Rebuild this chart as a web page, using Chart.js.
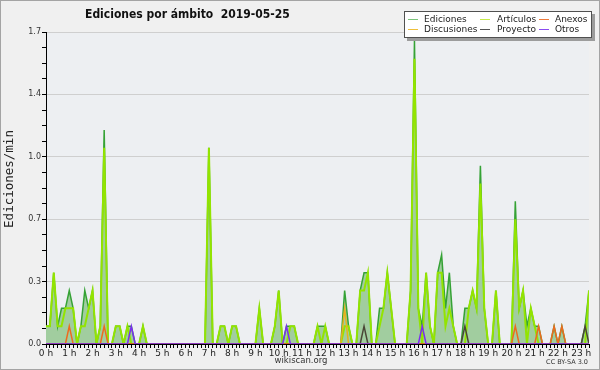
<!DOCTYPE html>
<html>
<head>
<meta charset="utf-8">
<script src="https://cdn.jsdelivr.net/npm/chart.js@4.4.0/dist/chart.umd.min.js"></script>
<style>
html, body { margin: 0; padding: 0; background: #f0f0f0; }
canvas { display: block; }
</style>
</head>
<body>
<canvas id="chart" width="600" height="370"></canvas>
<script>
// Ediciones por ámbito, 10-minute bins (0:00 .. 23:20)

const chartTitle = 'Ediciones por ámbito  2019-05-25';
const yTitle = 'Ediciones/min';
const hourLabels = ['0 h', '1 h', '2 h', '3 h', '4 h', '5 h', '6 h', '7 h', '8 h', '9 h', '10 h', '11 h',
    '12 h', '13 h', '14 h', '15 h', '16 h', '17 h', '18 h', '19 h', '20 h', '21 h', '22 h', '23 h'];
const yTickLabels = ['0.0', '0.3', '0.7', '1.0', '1.4', '1.7'];

// one value per 10 minutes, two hours per line
const ediciones = [
    0.1, 0.1, 0.4, 0.1, 0.2, 0.2, 0.3, 0.2, 0, 0.1, 0.3, 0.2,
    0.3, 0, 0.1, 1.2, 0, 0, 0.1, 0.1, 0, 0.1, 0.1, 0,
    0, 0.1, 0, 0, 0, 0, 0, 0, 0, 0, 0, 0,
    0, 0, 0, 0, 0, 0, 1.1, 0, 0, 0.1, 0.1, 0,
    0.1, 0.1, 0, 0, 0, 0, 0, 0.2, 0, 0, 0, 0.1,
    0.3, 0, 0.1, 0.1, 0.1, 0, 0, 0, 0, 0, 0.1, 0.1,
    0.1, 0, 0, 0, 0, 0.3, 0.1, 0, 0, 0.3, 0.4, 0.4,
    0, 0, 0.2, 0.2, 0.4, 0.2, 0, 0, 0, 0, 0.3, 1.7,
    0.2, 0.1, 0.4, 0.1, 0, 0.4, 0.5, 0.2, 0.4, 0.1, 0, 0,
    0.2, 0.2, 0.3, 0.2, 1.0, 0.2, 0, 0, 0.3, 0, 0, 0,
    0, 0.8, 0.2, 0.3, 0.1, 0.2, 0.1, 0.1, 0, 0, 0, 0.1,
    0, 0.1, 0, 0, 0, 0, 0, 0.1, 0.3
];
const articulos = [
    0.1, 0.1, 0.4, 0.1, 0.1, 0.2, 0.2, 0.2, 0, 0.1, 0.1, 0.2,
    0.3, 0, 0.1, 1.1, 0, 0, 0.1, 0.1, 0, 0.1, 0, 0,
    0, 0.1, 0, 0, 0, 0, 0, 0, 0, 0, 0, 0,
    0, 0, 0, 0, 0, 0, 1.1, 0, 0, 0.1, 0.1, 0,
    0.1, 0.1, 0, 0, 0, 0, 0, 0.2, 0, 0, 0, 0.1,
    0.3, 0, 0, 0.1, 0.1, 0, 0, 0, 0, 0, 0.1, 0,
    0.1, 0, 0, 0, 0, 0.1, 0.1, 0, 0, 0.3, 0.3, 0.4,
    0, 0, 0.1, 0.2, 0.4, 0.2, 0, 0, 0, 0, 0.3, 1.6,
    0.2, 0, 0.4, 0.1, 0, 0.4, 0.4, 0.1, 0.2, 0.1, 0, 0,
    0, 0.2, 0.3, 0.2, 0.9, 0.2, 0, 0, 0.3, 0, 0, 0,
    0, 0.7, 0.2, 0.3, 0, 0.2, 0.1, 0, 0, 0, 0, 0,
    0, 0, 0, 0, 0, 0, 0, 0, 0.3
];
const discusiones = [
    0, 0, 0, 0, 0, 0, 0, 0, 0, 0, 0, 0,
    0, 0, 0, 0, 0, 0, 0, 0, 0, 0, 0, 0,
    0, 0, 0, 0, 0, 0, 0, 0, 0, 0, 0, 0,
    0, 0, 0, 0, 0, 0, 0, 0, 0, 0, 0, 0,
    0, 0, 0, 0, 0, 0, 0, 0, 0, 0, 0, 0,
    0, 0, 0, 0, 0, 0, 0, 0, 0, 0, 0, 0,
    0, 0, 0, 0, 0, 0.2, 0, 0, 0, 0, 0, 0,
    0, 0, 0, 0, 0, 0, 0, 0, 0, 0, 0, 0,
    0, 0, 0, 0, 0, 0, 0, 0, 0, 0, 0, 0,
    0, 0, 0, 0, 0, 0, 0, 0, 0, 0, 0, 0,
    0, 0, 0, 0, 0, 0, 0, 0, 0, 0, 0, 0,
    0, 0, 0, 0, 0, 0, 0, 0, 0
];
const anexos = [
    0, 0, 0, 0, 0, 0, 0.1, 0, 0, 0, 0, 0,
    0, 0, 0, 0.1, 0, 0, 0, 0, 0, 0, 0, 0,
    0, 0, 0, 0, 0, 0, 0, 0, 0, 0, 0, 0,
    0, 0, 0, 0, 0, 0, 0, 0, 0, 0, 0, 0,
    0, 0, 0, 0, 0, 0, 0, 0, 0, 0, 0, 0,
    0, 0, 0, 0, 0, 0, 0, 0, 0, 0, 0, 0,
    0, 0, 0, 0, 0, 0, 0, 0, 0, 0, 0, 0,
    0, 0, 0, 0, 0, 0, 0, 0, 0, 0, 0, 0,
    0, 0, 0, 0, 0, 0, 0, 0, 0, 0, 0, 0,
    0, 0, 0, 0, 0, 0, 0, 0, 0, 0, 0, 0,
    0, 0.1, 0, 0, 0, 0, 0, 0.1, 0, 0, 0, 0.1,
    0, 0.1, 0, 0, 0, 0, 0, 0, 0
];
const proyecto = [
    0, 0, 0, 0, 0, 0, 0, 0, 0, 0, 0, 0,
    0, 0, 0, 0, 0, 0, 0, 0, 0, 0, 0, 0,
    0, 0, 0, 0, 0, 0, 0, 0, 0, 0, 0, 0,
    0, 0, 0, 0, 0, 0, 0, 0, 0, 0, 0, 0,
    0, 0, 0, 0, 0, 0, 0, 0, 0, 0, 0, 0,
    0, 0, 0, 0, 0, 0, 0, 0, 0, 0, 0, 0,
    0, 0, 0, 0, 0, 0, 0, 0, 0, 0, 0.1, 0,
    0, 0, 0, 0, 0, 0, 0, 0, 0, 0, 0, 0,
    0, 0, 0, 0, 0, 0, 0, 0, 0, 0, 0, 0,
    0.1, 0, 0, 0, 0, 0, 0, 0, 0, 0, 0, 0,
    0, 0, 0, 0, 0, 0, 0, 0, 0, 0, 0, 0,
    0, 0, 0, 0, 0, 0, 0, 0.1, 0
];
const otros = [
    0, 0, 0, 0, 0, 0, 0, 0, 0, 0, 0, 0,
    0, 0, 0, 0, 0, 0, 0, 0, 0, 0, 0.1, 0,
    0, 0, 0, 0, 0, 0, 0, 0, 0, 0, 0, 0,
    0, 0, 0, 0, 0, 0, 0, 0, 0, 0, 0, 0,
    0, 0, 0, 0, 0, 0, 0, 0, 0, 0, 0, 0,
    0, 0, 0.1, 0, 0, 0, 0, 0, 0, 0, 0, 0,
    0, 0, 0, 0, 0, 0, 0, 0, 0, 0, 0, 0,
    0, 0, 0, 0, 0, 0, 0, 0, 0, 0, 0, 0,
    0, 0.1, 0, 0, 0, 0, 0, 0, 0, 0, 0, 0,
    0, 0, 0, 0, 0, 0, 0, 0, 0, 0, 0, 0,
    0, 0, 0, 0, 0, 0, 0, 0, 0, 0, 0, 0,
    0, 0, 0, 0, 0, 0, 0, 0, 0
];

const lastBin = ediciones.length - 1;
const yMax = 1.75;
const yStep = 0.0875; // minor tick, 4 per labelled step

// legend: [label, colour], in drawing order (row by row)
const legendItems = [
    ['Ediciones', '#7cc47a'], ['Artículos', '#c6ea4a'], ['Anexos', '#ee7a3c'],
    ['Discusiones', '#eebf3a'], ['Proyecto', '#555555'], ['Otros', '#8a4cf0']
];

function toPoints(arr) {
    return arr.map((v, i) => ({ x: i, y: v }));
}

const frame = {
    id: 'frame',
    beforeDraw(chart) {
        const { ctx, chartArea: a } = chart;
        ctx.save();
        ctx.fillStyle = '#f0f0f0';
        ctx.fillRect(0, 0, chart.width, chart.height);
        ctx.strokeStyle = '#a4a4a4';
        ctx.lineWidth = 1;
        ctx.strokeRect(0.5, 0.5, chart.width - 1, chart.height - 1);
        ctx.fillStyle = '#edeff2';
        ctx.fillRect(a.left, a.top, a.right - a.left, a.bottom - a.top);
        ctx.restore();
    },
    afterDraw(chart) {
        const ctx = chart.ctx;
        ctx.save();
        // title
        ctx.fillStyle = '#111';
        ctx.font = 'bold 12px "DejaVu Sans Condensed", "DejaVu Sans"';
        ctx.textBaseline = 'middle';
        ctx.textAlign = 'left';
        ctx.fillText(chartTitle, 85, 15);

        // y axis title
        ctx.save();
        ctx.translate(10, 179);
        ctx.rotate(-Math.PI / 2);
        ctx.textAlign = 'center';
        ctx.font = '12.5px "DejaVu Sans Mono"';
        ctx.fillStyle = '#222';
        ctx.fillText(yTitle, 0, 0);
        ctx.restore();

        // footer
        ctx.textAlign = 'center';
        ctx.font = '8.5px "DejaVu Sans"';
        ctx.fillStyle = '#333';
        ctx.fillText('wikiscan.org', 301, 361);
        ctx.textAlign = 'right';
        ctx.font = '6.5px "DejaVu Sans"';
        ctx.fillText('CC BY-SA 3.0', 588, 362);

        // legend box with shadow
        ctx.fillStyle = '#9c9c9c';
        ctx.fillRect(407, 14, 188, 27);
        ctx.fillStyle = '#ffffff';
        ctx.fillRect(404, 11, 188, 27);
        ctx.strokeStyle = '#505050';
        ctx.strokeRect(404.5, 11.5, 187, 26);
        const swatchX = [408, 480, 539];
        const textX = [424, 497, 555];
        const rowY = [19.5, 29.5];
        ctx.font = '9px "DejaVu Sans"';
        ctx.textAlign = 'left';
        legendItems.forEach((item, k) => {
            const col = k % 3;
            const row = Math.floor(k / 3);
            ctx.strokeStyle = item[1];
            ctx.lineWidth = 1;
            ctx.beginPath();
            ctx.moveTo(swatchX[col], rowY[row]);
            ctx.lineTo(swatchX[col] + 10, rowY[row]);
            ctx.stroke();
            ctx.fillStyle = '#222';
            ctx.fillText(item[0], textX[col], rowY[row] + 0.5);
        });
        ctx.restore();
    }
};

function lineSet(label, data, color, width, order) {
    return {
        label: label,
        data: toPoints(data),
        borderColor: color,
        borderWidth: width,
        pointRadius: 0,
        tension: 0,
        fill: false,
        order: order
    };
}

const edicionesSet = lineSet('Ediciones', ediciones, '#35a235', 1.5, 6);
edicionesSet.fill = 'origin';
edicionesSet.backgroundColor = '#a1cd9f';

const ctx = document.getElementById('chart').getContext('2d');
const chart = new Chart(ctx, {
    type: 'line',
    data: {
        datasets: [
            edicionesSet,
            lineSet('Artículos', articulos, '#93e400', 2, 5),
            lineSet('Discusiones', discusiones, '#e6b21e', 1.5, 4),
            lineSet('Proyecto', proyecto, '#4a4636', 1.5, 3),
            lineSet('Anexos', anexos, '#ee6a1e', 1.5, 2),
            lineSet('Otros', otros, '#7a2ef0', 1.5, 1)
        ]
    },
    options: {
        responsive: false,
        animation: false,
        devicePixelRatio: 1,
        layout: {
            autoPadding: false,
            padding: { top: 32, right: 11, left: 0, bottom: 0 }
        },
        plugins: {
            legend: { display: false },
            title: { display: false },
            tooltip: { enabled: false }
        },
        scales: {
            x: {
                type: 'linear',
                min: 0,
                max: lastBin,
                afterBuildTicks(scale) {
                    scale.ticks = ediciones.map((v, i) => ({ value: i }));
                },
                afterFit(scale) {
                    scale.height = 26;
                },
                border: { display: true, color: '#000', width: 1 },
                grid: {
                    drawOnChartArea: false,
                    tickLength: 4,
                    tickColor: '#000'
                },
                ticks: {
                    autoSkip: false,
                    maxRotation: 0,
                    minRotation: 0,
                    padding: 0,
                    color: '#222',
                    font: { family: 'DejaVu Sans', size: 9 },
                    callback: (value) => (value % 6 === 0 ? hourLabels[value / 6] : '')
                }
            },
            y: {
                type: 'linear',
                min: 0,
                max: yMax,
                afterBuildTicks(scale) {
                    const t = [];
                    for (let k = 0; k <= 20; k++) {
                        t.push({ value: k * yStep });
                    }
                    scale.ticks = t;
                },
                afterFit(scale) {
                    scale.width = 46;
                },
                border: { display: true, color: '#000', width: 1 },
                grid: {
                    color: (c) => (c.index % 4 === 0 && c.index > 0 ? '#cfcfcf' : 'rgba(0,0,0,0)'),
                    tickColor: '#000',
                    tickLength: 4
                },
                ticks: {
                    padding: 1,
                    color: '#333',
                    font: { family: 'DejaVu Sans', size: 8 },
                    callback: (value, index) => (index % 4 === 0 ? yTickLabels[index / 4] : '')
                }
            }
        }
    },
    plugins: [frame]
});
</script>
</body>
</html>
